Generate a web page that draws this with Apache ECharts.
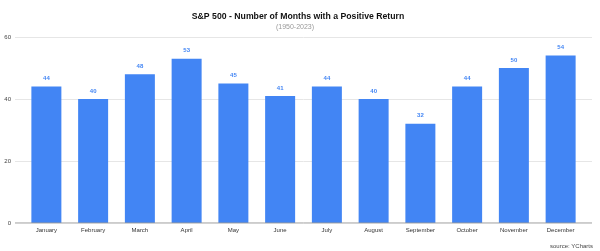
<!DOCTYPE html>
<html>
<head>
<meta charset="utf-8">
<script src="https://cdn.jsdelivr.net/npm/echarts@6/dist/echarts.min.js"></script>
<style>
  html, body { margin: 0; padding: 0; background: #fff; }
  #chart { width: 600px; height: 251px; }
</style>
</head>
<body>
<div id="chart"></div>
<script>
// data
var months = ['January', 'February', 'March', 'April', 'May', 'June', 'July',
  'August', 'September', 'October', 'November', 'December'];
var positiveMonths = [44, 40, 48, 53, 45, 41, 44, 40, 32, 44, 50, 54];
var yTicks = [0, 20, 40, 60];

var font = 'Liberation Sans, Arial, sans-serif';
var chart = echarts.init(document.getElementById('chart'));

chart.setOption({
  animation: false,
  title: [{
    text: 'S&P 500 - Number of Months with a Positive Return',
    left: 293,
    top: 7,
    textAlign: 'center',
    textStyle: { fontFamily: font, fontSize: 8.7, fontWeight: 'bold', color: '#111' }
  }, {
    text: '(1950-2023)',
    left: 290,
    top: 19,
    textAlign: 'center',
    textStyle: { fontFamily: font, fontSize: 7, fontWeight: 'normal', color: '#999' }
  }, {
    text: 'source: YCharts',
    right: 2,
    top: 238,
    textStyle: { fontFamily: font, fontSize: 6, fontWeight: 'normal', color: '#444' }
  }],
  // grid 0 carries the longer gridlines, grid 1 carries the bars
  grid: [
    { left: 15, right: 8, top: 37, bottom: 28 },
    { left: 23, right: 16, top: 37, bottom: 28 }
  ],
  xAxis: [{
    gridIndex: 0,
    type: 'value',
    show: false
  }, {
    gridIndex: 1,
    type: 'category',
    data: months,
    axisLine: { show: false },
    axisTick: { show: false },
    axisLabel: { fontFamily: font, fontSize: 6, color: '#333', margin: 4, interval: 0 }
  }],
  yAxis: [{
    gridIndex: 0,
    type: 'value',
    min: yTicks[0],
    max: yTicks[yTicks.length - 1],
    interval: 20,
    axisLine: { show: false },
    axisTick: { show: false },
    axisLabel: { fontFamily: font, fontSize: 6, color: '#444', margin: 4 },
    splitLine: { lineStyle: { color: '#e6e6e6', width: 1 } }
  }, {
    gridIndex: 1,
    type: 'value',
    min: yTicks[0],
    max: yTicks[yTicks.length - 1],
    show: false
  }],
  series: [{
    type: 'line',
    xAxisIndex: 0,
    yAxisIndex: 0,
    data: [[0, 0], [1, 0]],
    symbol: 'none',
    lineStyle: { color: '#999', width: 1 },
    silent: true
  }, {
    type: 'bar',
    xAxisIndex: 1,
    yAxisIndex: 1,
    data: positiveMonths,
    barWidth: 30,
    itemStyle: { color: '#4285f4' },
    label: {
      show: true,
      position: 'top',
      distance: 5,
      fontFamily: font,
      fontSize: 6,
      fontWeight: 'bold',
      color: '#4285f4'
    }
  }]
});
</script>
</body>
</html>
